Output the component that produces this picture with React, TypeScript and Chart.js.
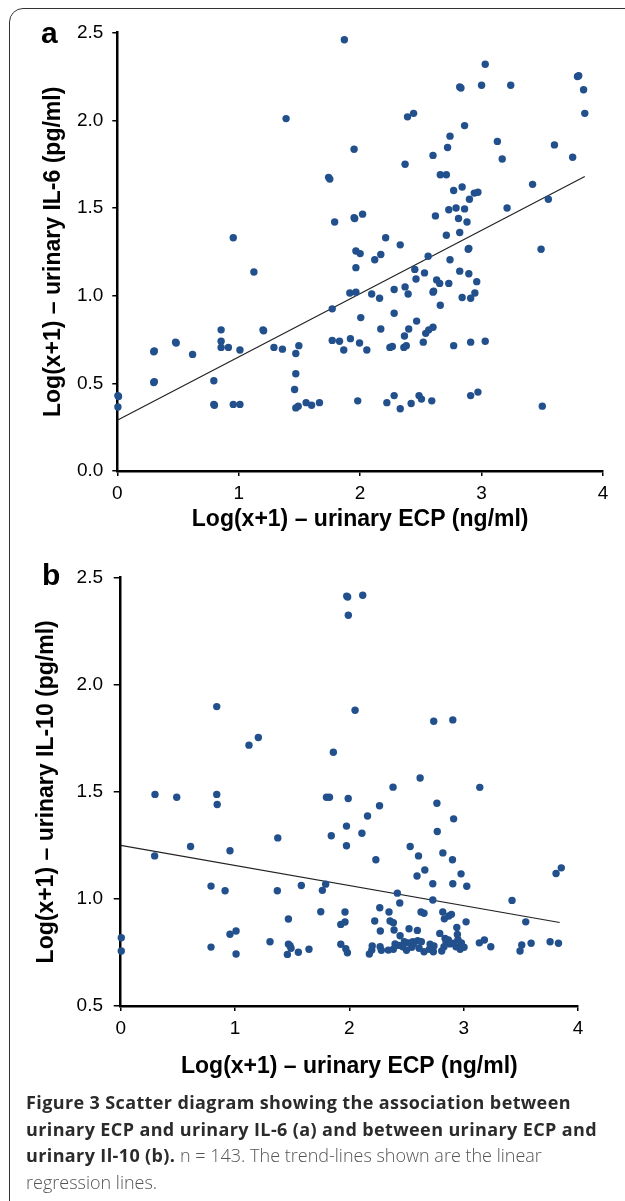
import React, { useEffect, useRef } from "react";
import { Chart, registerables } from "chart.js";

Chart.register(...registerables);

// ---------- Data ----------
// Panel a: urinary ECP (x) vs urinary IL-6 (y), both Log(x+1)
const ecpA = [
  1.87, 1.39, 1.74, 1.75, 1.79, 0.955, 3.03, 2.82, 2.83, 3.0, 3.24, 3.79, 3.8, 3.84, 3.85,
  2.39, 2.44, 2.86, 2.74, 2.72, 1.95, 3.13, 3.17, 3.6, 3.75, 2.6, 2.37, 2.66, 2.71, 3.42,
  3.55, 2.84, 2.77, 2.94, 2.97, 2.9, 3.21, 2.73, 2.79, 2.86, 1.95, 1.955, 2.02, 2.62, 2.81,
  2.88, 2.82, 2.71, 2.21, 2.33, 3.49, 2.89, 2.895, 1.965, 2.0, 2.17, 2.12, 2.56, 2.74, 1.965,
  2.45, 2.53, 2.82, 2.895, 2.46, 2.63, 2.655, 2.73, 2.96, 2.37, 2.28, 1.915, 1.965, 2.095, 2.16,
  2.395, 2.6, 2.605, 2.945, 2.84, 2.91, 2.66, 2.28, 2.005, 2.465, 2.4, 2.17, 2.565, 2.6, 2.54,
  2.365, 1.92, 1.995, 1.865, 2.055, 2.245, 2.265, 2.36, 2.38, 2.52, 2.77, 2.91, 3.03, 1.98, 2.22,
  2.28, 2.33, 2.42, 2.485, 2.505, 2.59, 2.91, 2.97, 3.5, 1.125, 1.77, 0.855, 1.2, 1.205, 0.48,
  0.485, 0.855, 0.855, 0.915, 1.01, 0.3, 0.305, 0.62, 1.29, 1.36, 1.47, 1.495, 1.77, 1.83, 0.3,
  0.305, 0.795, 1.47, 1.46, 0.005, 0.01, 0.005, 0.795, 0.8, 0.955, 1.01, 1.47, 1.49, 1.555, 1.6,
  1.665,
];
const il6 = [
  2.46, 2.01, 1.675, 1.665, 1.42, 1.33, 2.32, 2.19, 2.185, 2.2, 2.2, 2.25, 2.255, 2.175, 2.04,
  2.02, 2.04, 1.97, 1.91, 1.845, 1.835, 1.88, 1.78, 1.86, 1.79, 1.8, 1.75, 1.69, 1.69, 1.635,
  1.55, 1.62, 1.6, 1.585, 1.59, 1.55, 1.5, 1.49, 1.5, 1.495, 1.445, 1.44, 1.465, 1.455, 1.44,
  1.42, 1.36, 1.345, 1.33, 1.29, 1.265, 1.265, 1.27, 1.255, 1.24, 1.235, 1.205, 1.225, 1.205, 1.16,
  1.15, 1.13, 1.14, 1.125, 1.095, 1.09, 1.07, 1.07, 1.08, 1.05, 1.035, 1.015, 1.02, 1.01, 0.985,
  1.01, 1.02, 1.025, 1.015, 0.99, 0.985, 0.945, 0.9, 0.875, 0.855, 0.81, 0.81, 0.805, 0.82, 0.785,
  0.77, 0.755, 0.73, 0.69, 0.69, 0.705, 0.71, 0.705, 0.715, 0.735, 0.715, 0.735, 0.74, 0.4, 0.39,
  0.43, 0.355, 0.385, 0.43, 0.41, 0.4, 0.43, 0.45, 0.37, 1.135, 0.925, 0.805, 0.805, 0.8, 0.735,
  0.73, 0.74, 0.705, 0.705, 0.69, 0.68, 0.685, 0.665, 0.705, 0.695, 0.67, 0.715, 0.745, 0.74, 0.505,
  0.51, 0.515, 0.555, 0.465, 0.43, 0.425, 0.365, 0.38, 0.375, 0.38, 0.38, 0.36, 0.37, 0.39, 0.375,
  0.39,
];
const trendAx = [0, 3.85];
const trendAy = [0.29, 1.68];

// Panel b: urinary ECP (x) vs urinary IL-10 (y), both Log(x+1)
const ecpB = [
  1.977, 1.985, 2.117, 1.991, 0.84, 1.122, 1.204, 1.86, 0.3, 0.49, 0.84, 1.8, 1.826, 1.99, 2.05,
  2.738, 2.905, 2.619, 2.382, 3.141, 2.766, 0.844, 2.264, 2.159, 2.912, 1.975, 2.11, 2.769, 1.842, 1.374,
  1.975, 2.532, 2.605, 2.818, 2.902, 2.232, 0.611, 0.956, 0.297, 3.854, 0.79, 0.913, 1.37, 1.58, 1.764,
  1.793, 1.75, 1.467, 1.962, 1.925, 1.962, 0.956, 1.009, 0.005, 0.005, 0.79, 1.009, 1.306, 1.467, 1.481,
  1.458, 1.554, 1.647, 1.925, 1.969, 1.983, 2.66, 2.592, 2.977, 2.73, 2.905, 3.027, 3.808, 2.42, 2.441,
  2.73, 3.423, 3.543, 2.266, 2.347, 2.627, 2.653, 2.817, 2.87, 2.893, 2.831, 3.021, 2.222, 2.356, 2.385,
  2.271, 2.391, 2.522, 2.595, 2.444, 2.791, 2.94, 2.945, 2.837, 2.866, 2.846, 2.481, 2.516, 2.555, 2.598,
  2.432, 2.467, 2.546, 2.341, 2.385, 2.269, 2.196, 2.175, 2.653, 2.7, 2.706, 2.735, 2.808, 2.828, 2.91,
  2.933, 2.969, 3.003, 3.137, 3.181, 3.237, 3.508, 3.493, 3.59, 3.756, 3.829, 2.61, 2.5, 2.88, 2.95,
  2.28, 2.56, 2.74, 2.2, 1.49, 2.63, 2.4, 2.98,
];
const il10 = [
  2.414, 2.41, 2.418, 2.325, 1.898, 1.718, 1.754, 1.685, 1.488, 1.475, 1.488, 1.475, 1.475, 1.469, 1.881,
  1.83, 1.836, 1.565, 1.522, 1.521, 1.447, 1.441, 1.435, 1.387, 1.374, 1.34, 1.307, 1.315, 1.295, 1.285,
  1.248, 1.245, 1.201, 1.215, 1.183, 1.183, 1.245, 1.225, 1.201, 1.145, 1.06, 1.038, 1.038, 1.063, 1.04,
  1.069, 0.94, 0.906, 0.939, 0.881, 0.892, 0.835, 0.85, 0.819, 0.757, 0.775, 0.743, 0.8, 0.789, 0.781,
  0.741, 0.751, 0.765, 0.788, 0.767, 0.749, 1.135, 1.107, 1.117, 1.071, 1.071, 1.059, 1.119, 1.027, 0.981,
  0.995, 0.993, 0.893, 0.959, 0.939, 0.939, 0.933, 0.939, 0.92, 0.928, 0.907, 0.893, 0.897, 0.897, 0.889,
  0.85, 0.855, 0.861, 0.853, 0.828, 0.839, 0.867, 0.834, 0.816, 0.809, 0.8, 0.8, 0.795, 0.8, 0.805,
  0.783, 0.777, 0.774, 0.761, 0.765, 0.777, 0.761, 0.743, 0.753, 0.765, 0.789, 0.753, 0.757, 0.777, 0.793,
  0.777, 0.765, 0.774, 0.795, 0.808, 0.777, 0.785, 0.757, 0.793, 0.8, 0.793, 0.77, 0.76, 0.79, 0.81,
  0.76, 0.79, 0.78, 0.78, 0.77, 0.8, 0.79, 0.795,
];
const trendBx = [0, 3.84];
const trendBy = [1.25, 0.89];

const xTickValues = [0, 1, 2, 3, 4];
const yTickValuesA = [0, 0.5, 1, 1.5, 2, 2.5];
const yTickValuesB = [0.5, 1, 1.5, 2, 2.5];

const xTitle = "Log(x+1) – urinary ECP (ng/ml)";
const yTitleA = "Log(x+1) – urinary IL-6 (pg/ml)";
const yTitleB = "Log(x+1) – urinary IL-10 (pg/ml)";

// ---------- Chart ----------
type Spec = {
  xs: number[];
  ys: number[];
  tx: number[];
  ty: number[];
  yTicks: number[];
  yTitle: string;
  canvasH: number;
  padTop: number;
  padRight: number;
  yWidth: number;
  xHeight: number;
  yTickLen: number;
  yTickPad: number;
  xTitlePad: number;
  yTitlePad: number;
};

const DOT = "#22508c";
const FONT = "'Liberation Sans', Arial, sans-serif";

function ScatterPanel({ spec, top }: { spec: Spec; top: number }) {
  const ref = useRef<HTMLCanvasElement | null>(null);
  useEffect(() => {
    if (!ref.current) return;
    const pts = spec.xs.map((x, i) => ({ x, y: spec.ys[i] }));
    const line = spec.tx.map((x, i) => ({ x, y: spec.ty[i] }));
    const yMin = spec.yTicks[0];
    const yMax = spec.yTicks[spec.yTicks.length - 1];
    const chart = new Chart(ref.current, {
      type: "scatter",
      data: {
        datasets: [
          {
            data: pts,
            backgroundColor: DOT,
            borderColor: DOT,
            borderWidth: 0,
            pointRadius: 3.7,
            pointHoverRadius: 3.7,
            clip: false as any,
          },
          {
            type: "line" as any,
            data: line,
            borderColor: "#222",
            borderWidth: 1.2,
            pointRadius: 0,
            showLine: true,
            fill: false,
          } as any,
        ],
      },
      options: {
        animation: false,
        responsive: false,
        devicePixelRatio: 1,
        layout: { padding: { left: 0, right: spec.padRight, top: spec.padTop, bottom: 0 } },
        plugins: { legend: { display: false }, tooltip: { enabled: false } },
        events: [],
        scales: {
          x: {
            type: "linear",
            min: 0,
            max: 4,
            afterFit: (s: any) => {
              s.height = spec.xHeight;
            },
            afterBuildTicks: (s: any) => {
              s.ticks = xTickValues.map((v) => ({ value: v }));
            },
            ticks: {
              color: "#000",
              font: { family: FONT, size: 19 },
              padding: 6,
              callback: (v: any) => String(v),
            },
            grid: {
              drawOnChartArea: false,
              drawTicks: true,
              tickLength: 5,
              color: "#000",
              lineWidth: 1.5,
            },
            border: { display: true, color: "#000", width: 2.5 },
            title: {
              display: true,
              text: xTitle,
              color: "#000",
              font: { family: FONT, size: 23, weight: "bold" },
              padding: { top: 0, bottom: spec.xTitlePad },
            },
          },
          y: {
            type: "linear",
            min: yMin,
            max: yMax,
            afterFit: (s: any) => {
              s.width = spec.yWidth;
            },
            afterBuildTicks: (s: any) => {
              s.ticks = spec.yTicks.map((v) => ({ value: v }));
            },
            ticks: {
              color: "#000",
              font: { family: FONT, size: 19 },
              padding: spec.yTickPad,
              callback: (v: any) => Number(v).toFixed(1),
            },
            grid: {
              drawOnChartArea: false,
              drawTicks: true,
              tickLength: spec.yTickLen,
              color: "#000",
              lineWidth: 1.5,
            },
            border: { display: true, color: "#000", width: 2.5 },
            title: {
              display: true,
              text: spec.yTitle,
              color: "#000",
              font: { family: FONT, size: 23, weight: "bold" },
              padding: { top: spec.yTitlePad, bottom: 0 },
            },
          },
        },
      } as any,
    });
    return () => chart.destroy();
  }, [spec]);
  return (
    <canvas
      ref={ref}
      width={625}
      height={spec.canvasH}
      style={{ position: "absolute", left: 0, top, width: 625, height: spec.canvasH }}
    />
  );
}

const specA: Spec = {
  xs: ecpA,
  ys: il6,
  tx: trendAx,
  ty: trendAy,
  yTicks: yTickValuesA,
  yTitle: yTitleA,
  canvasH: 545,
  padTop: 32.7,
  padRight: 22,
  yWidth: 117.3,
  xHeight: 74,
  yTickLen: 5,
  yTickPad: 9,
  xTitlePad: 11.2,
  yTitlePad: 40.2,
};

const specB: Spec = {
  xs: ecpB,
  ys: il10,
  tx: trendBx,
  ty: trendBy,
  yTicks: yTickValuesB,
  yTitle: yTitleB,
  canvasH: 560,
  padTop: 32.7,
  padRight: 47,
  yWidth: 120.7,
  xHeight: 99,
  yTickLen: 7,
  yTickPad: 10.7,
  xTitlePad: 24.2,
  yTitlePad: 33.2,
};

export default function App() {
  return (
    <div
      style={{
        position: "absolute",
        left: 0,
        top: 0,
        width: 625,
        height: 1201,
        overflow: "hidden",
        background: "#fff",
      }}
    >
      <div
        style={{
          position: "absolute",
          left: 9,
          top: 8,
          width: 700,
          height: 1300,
          border: "1.5px solid #333",
          borderRadius: 14,
          boxSizing: "border-box",
        }}
      />
      <ScatterPanel spec={specA} top={0} />
      <ScatterPanel spec={specB} top={545} />
      <div
        style={{
          position: "absolute",
          left: 41,
          top: 17.6,
          fontFamily: FONT,
          fontWeight: "bold",
          fontSize: 30,
          lineHeight: "30px",
          color: "#000",
        }}
      >
        a
      </div>
      <div
        style={{
          position: "absolute",
          left: 42,
          top: 559.6,
          fontFamily: FONT,
          fontWeight: "bold",
          fontSize: 30,
          lineHeight: "30px",
          color: "#000",
        }}
      >
        b
      </div>
      <div
        style={{
          position: "absolute",
          left: 26,
          top: 1089,
          width: 598,
          fontFamily: "'Open Sans', 'Noto Sans', sans-serif",
          fontSize: 18,
          lineHeight: "26.5px",
          color: "#2b2b2b",
          whiteSpace: "nowrap",
        }}
      >
        <b style={{ letterSpacing: "0.38px" }}>
          Figure 3 Scatter diagram showing the association between
          <br />
          urinary ECP and urinary IL-6 (a) and between urinary ECP and
          <br />
          urinary Il-10 (b).
        </b>{" "}
        <span style={{ fontWeight: 300, color: "#555" }}>
          n = 143. The trend-lines shown are the linear
          <br />
          regression lines.
        </span>
      </div>
    </div>
  );
}
